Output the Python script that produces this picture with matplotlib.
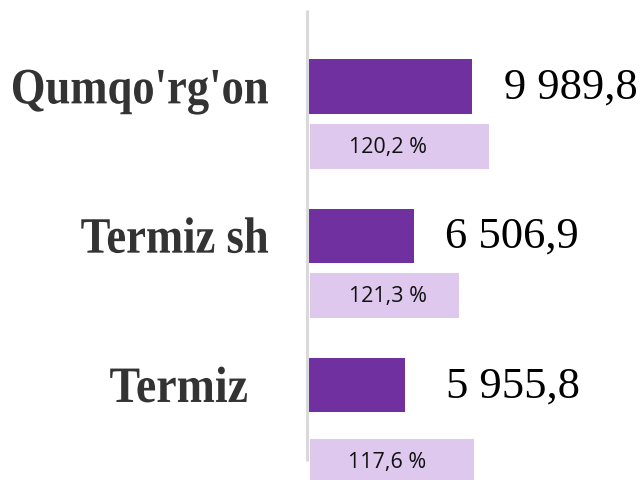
import numpy as np
import matplotlib.pyplot as plt
from matplotlib.textpath import TextPath
from matplotlib.patches import PathPatch
from matplotlib.font_manager import FontProperties
from matplotlib.transforms import Affine2D

# data
districts = ["Qumqo'rg'on", "Termiz sh", "Termiz"]
values = [9989.8, 6506.9, 5955.8]
value_labels = ["9 989,8", "6 506,9", "5 955,8"]
growth_bar = [10820, 9020, 9930]
growth_labels = ["120,2 %", "121,3 %", "117,6 %"]

dark = '#7030A0'
light = '#DFC8EE'

px = 0.01652  # pixels per data unit
fig = plt.figure(figsize=(6.4, 4.81), dpi=100)
ax = fig.add_axes([0, 0, 1, 1])
ax.set_xlim(-307 / px, (640 - 307) / px)
span = 481 / 149.3
ax.set_ylim(span - 0.586, -0.586)
ax.axis('off')

y = np.arange(len(districts))
light_off = [0.4, 0.4, 0.51]
yl = y + np.array(light_off)

ax.barh(y, values, height=0.362, color=dark, left=0)
ax.barh(yl, growth_bar, height=0.30, color=light, left=3 / px)

# axis line
ax.plot([0, 0], [-0.51, 2.51], color='#D9D9D9', lw=2.2, solid_capstyle='butt')

# category labels: bold serif, slightly condensed
lab_font = FontProperties(family='Liberation Serif', weight='bold')
lab_size = 51
squeeze = [0.875, 0.875, 0.9]
right_pad = [39, 39, 60]
for i, name in enumerate(districts):
    tp = TextPath((0, 0), name, size=lab_size, prop=lab_font)
    w = tp.get_extents().x1
    x0, yc = ax.transData.transform((0, y[i]))
    base = yc - 0.662 * lab_size / 2
    tr = Affine2D().scale(squeeze[i], 1).translate(x0 - right_pad[i] - w * squeeze[i], base)
    fig.patches.append(PathPatch(tp, transform=tr, color='#333333', lw=0))

pads = [23, 22, 29]
for i in range(len(districts)):
    ax.annotate(value_labels[i], (values[i], y[i]), xytext=(pads[i], 0),
                textcoords='offset points', ha='left', va='center',
                fontsize=32, family='Liberation Serif', color='black')
    ax.text(4873, yl[i], growth_labels[i], ha='center', va='center',
            fontsize=15.5, family='Open Sans', color='#111111')

fig.savefig('out.png', dpi=100)
